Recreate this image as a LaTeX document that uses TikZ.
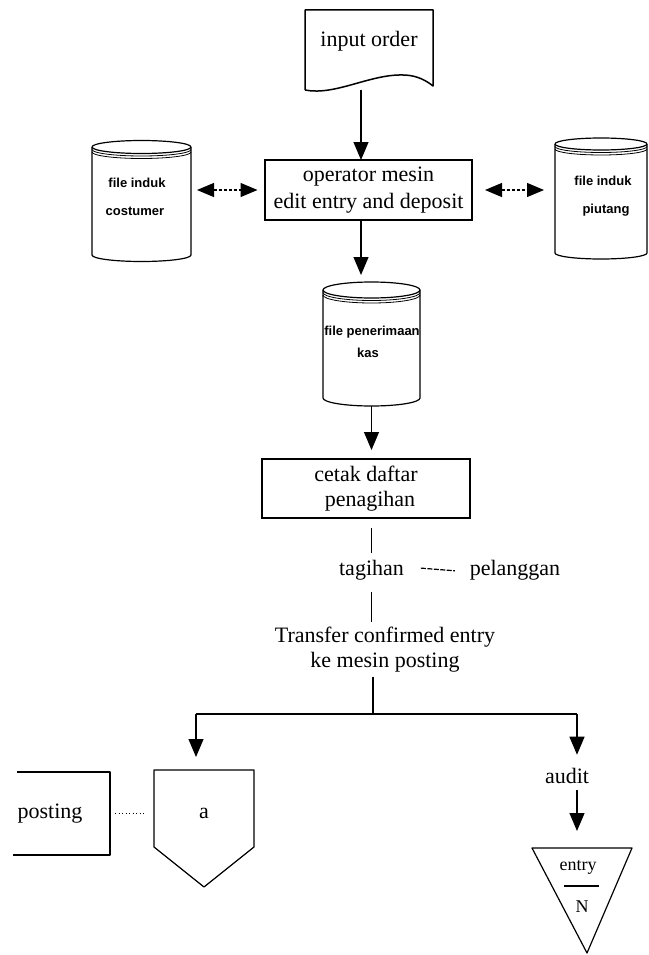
\documentclass[tikz,border=0pt]{standalone}
\usepackage{fontspec}
\setmainfont{Liberation Serif}
\newfontfamily\drumfont{Liberation Sans}
\usetikzlibrary{arrows.meta}

% cylinder (disk file): #1 centre x, #2 half width, #3 top ellipse centre y,
% #4 bottom of the sides, #5 vertical radius of the ellipses
\newcommand\drumfile[5]{%
  \draw[outline] (#1,#3) ellipse[x radius=#2pt, y radius=#5pt];
  \draw[outline] ({#1-#2},#3) -- ({#1-#2},#4)
    arc[start angle=180, end angle=360, x radius=#2pt, y radius=#5pt] -- ({#1+#2},#3);
  \draw[thinline] ({#1-#2},{#3+2.5}) arc[start angle=180, end angle=360, x radius=#2pt, y radius=#5pt];
  \draw[thinline] ({#1-#2},{#3+5}) arc[start angle=180, end angle=360, x radius=#2pt, y radius=#5pt];
}

\begin{document}
\begin{tikzpicture}[x=1pt, y=-1pt,
  every node/.style={inner sep=0pt, outer sep=0pt},
  lbl/.style={font=\fontsize{22}{27}\selectfont, anchor=base},
  small/.style={font=\drumfont\bfseries\fontsize{13}{15}\selectfont, anchor=base},
  frac/.style={font=\fontsize{18}{21}\selectfont, anchor=base},
  outline/.style={line width=1.2pt, line join=round},
  thinline/.style={line width=0.8pt},
  boxline/.style={draw, line width=1.4pt},
  conn/.style={line width=1.2pt},
  head/.style={Triangle[length=18pt, width=15pt]},
  arr/.style={conn, -{Triangle[length=18pt, width=15pt]}},
  dbl/.style={conn, dash pattern=on 3pt off 2pt,
    {Triangle[length=17pt, width=14pt]}-{Triangle[length=17pt, width=14pt]}},
]
\useasboundingbox (0,0) rectangle (648,955);
\fill[white] (0,0) rectangle (648,955);

% ---------- input document ----------
\node[minimum width=128pt, minimum height=80pt] (in) at (369,50) {};
\draw[line width=1.5pt, line join=round] (305,90) -- (305,10) -- (433,10) -- (433,86)
  .. controls (428,82) and (418,75) .. (403,75)
  .. controls (370,74) and (335,96) .. (305,90);
\node[lbl] (inT) at (369,47) {input order};

% ---------- process box ----------
\node[boxline, minimum width=207pt, minimum height=60pt, align=center,
  font=\fontsize{22}{27}\selectfont] (op) at (368.5,190)
  {operator mesin\\edit entry and deposit};

% ---------- master files ----------
\drumfile{141.5}{49.5}{147}{255}{6.5}
\node[minimum width=99pt, minimum height=120pt] (cu) at (141.5,201) {};
\node[small] (cuA) at (137,187) {file induk};
\node[small] (cuB) at (135,215) {costumer};

\drumfile{601}{46}{144}{253}{6}
\node[minimum width=92pt, minimum height=120pt] (pi) at (601,198) {};
\node[small] (piA) at (603,185) {file induk};
\node[small] (piB) at (606,213) {piutang};

\drumfile{371.5}{48.5}{290}{398}{8}
\node[minimum width=97pt, minimum height=124pt] (kas) at (371.5,344) {};
\node[small] (kasA) at (372,335) {file penerimaan};
\node[small] (kasB) at (368,357) {kas};

% ---------- print box ----------
\node[boxline, minimum width=208pt, minimum height=59pt, align=center,
  font=\fontsize{22}{25}\selectfont] (cetak) at (366,488.5)
  {cetak daftar\\\hspace*{8pt}penagihan};

% ---------- texts along the flow ----------
\node[lbl] (tag) at (371.5,575) {tagihan};
\node[lbl] (pel) at (515,575) {pelanggan};
\node[align=center, font=\fontsize{22}{25}\selectfont] (tr) at (385,650)
  {Transfer confirmed entry\\ke mesin posting};

% ---------- branch ----------
\coordinate (bm) at (373,714);
\coordinate (bl) at (196,714);
\coordinate (br) at (577,714);

% off-page connector a and posting box
\node[minimum width=100pt, minimum height=117pt] (pa) at (204,828.5) {};
\draw[outline] (154,770) -- (254,770) -- (254,847) -- (204,887) -- (154,847) -- cycle;
\node[lbl] (paT) at (204,818) {a};

\node[minimum width=97pt, minimum height=83pt] (po) at (61.5,813.5) {};
\draw[outline] (17,772) -- (110,772) -- (110,855) -- (13,855);
\node[lbl] (poT) at (50,818) {posting};

% audit and file storage triangle
\node[lbl] (au) at (567,783) {audit};
\node[minimum width=100pt, minimum height=105pt] (tri) at (582,900.5) {};
\draw[outline] (532,848) -- (632,848) -- (587,953) -- cycle;
\node[frac] (en) at (578,870) {entry};
\coordinate (fl) at (564,886);
\coordinate (fr) at (599,886);
\draw[conn] (fl) -- (fr);
\node[frac] (nn) at (582,912) {N};

% ---------- connectors ----------
\coordinate (sp) at (361,0);
\draw[arr] (in.south -| sp) -- (op.north -| sp);
\draw[arr, shorten >=7pt] (op.south -| sp) -- (kas.north -| sp);
\draw[dbl, shorten <=6pt, shorten >=7.5pt] (cu.east |- op.west) -- (op.west);
\draw[dbl, shorten <=13pt, shorten >=11pt] (op.east) -- (pi.west |- op.east);
\draw[arr, shorten >=9pt] (kas.south) -- (kas.south |- cetak.north);
\draw[conn, shorten <=10pt, shorten >=7pt] (tag.north |- cetak.south) -- (tag.north);
\draw[conn, dash pattern=on 5pt off 1.5pt, shorten <=17pt, shorten >=15pt] (tag.east) ++(0,-3) -- (pel.west |- 0,572);
\draw[conn, shorten <=12pt, shorten >=5pt] (tag.south) -- (tag.south |- tr.north);
\draw[conn, shorten <=4pt] (tr.south -| bm) -- (bm);
\draw[conn] (bl) -- (br);
\draw[arr, shorten >=13pt] (bl) -- (bl |- pa.north);
\draw[arr, shorten >=13pt] (br) -- (br |- au.north);
\draw[arr, shorten <=7pt, shorten >=17pt] (au.south -| br) -- (br |- tri.north);
\draw[conn, dash pattern=on 1pt off 2.5pt, shorten <=5pt, shorten >=9pt] (po.east) -- (pa.west |- po.east);
\end{tikzpicture}
\end{document}
